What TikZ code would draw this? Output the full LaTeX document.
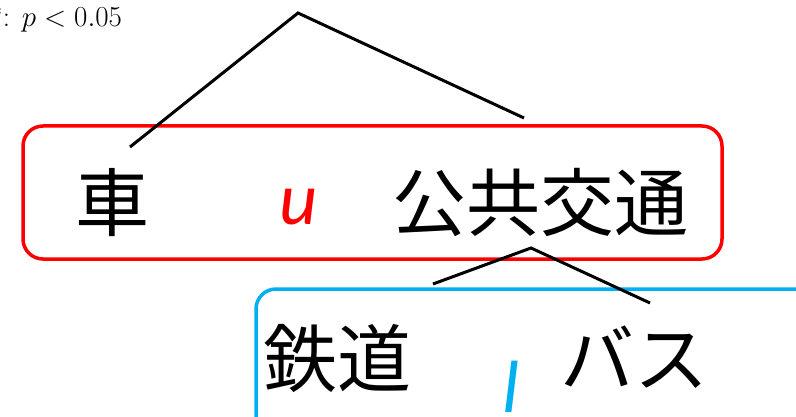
\RequirePackage{fix-cm}
\documentclass[tikz,border=0pt]{standalone}
\usepackage{fontspec}
\newfontfamily\jp{Noto Sans CJK JP}
\newfontfamily\lat{Carlito}
\definecolor{grpred}{RGB}{255,0,0}
\definecolor{grpblue}{RGB}{0,176,240}
\begin{document}
\begin{tikzpicture}[x=1pt,y=-1pt,
  jtext/.style={inner sep=0pt, font=\jp\fontsize{74}{80}\selectfont, anchor=base west},
  vtext/.style={inner sep=0pt, font=\lat\itshape\fontsize{74}{80}\selectfont, anchor=base west},
  branch/.style={line width=3pt, black},
  grp/.style={draw, line width=3.5pt, rounded corners=20pt, inner sep=0pt}]
\useasboundingbox (0,0) rectangle (796,417);
\clip (0,0) rectangle (796,417);
% note
\node[inner sep=0pt, anchor=base west, font=\fontsize{29}{34}\selectfont] (note) at (-8,27) {${}^{*}$: $p<0.05$};
% group boxes
\node[grp, grpred, minimum width=699pt, minimum height=133pt] (ubox) at (372.5,192.5) {};
\node[grp, grpblue, minimum width=580pt, minimum height=170pt] (lbox) at (546,374) {};
% words
\node[jtext] (car) at (75,230) {車};
\node[jtext] (pub) at (392,230) {公共交通};
\node[jtext] (rail) at (263,386) {鉄道};
\node[jtext] (bus) at (560,386) {バス};
\node[vtext, grpred] (u) at (279,225) {u};
\node[vtext, grpblue] (l) at (502,412) {l};
% tree coordinates
\coordinate (top) at (298,13);
\coordinate (carend) at (130,147);
\coordinate (pubend) at (524,118);
\coordinate (mid) at (531,248);
\coordinate (railend) at (433,284);
\coordinate (busend) at (650,303);
\draw[branch] (carend) -- (top) -- (pubend);
\draw[branch] (railend) -- (mid) -- (busend);
\end{tikzpicture}
\end{document}
